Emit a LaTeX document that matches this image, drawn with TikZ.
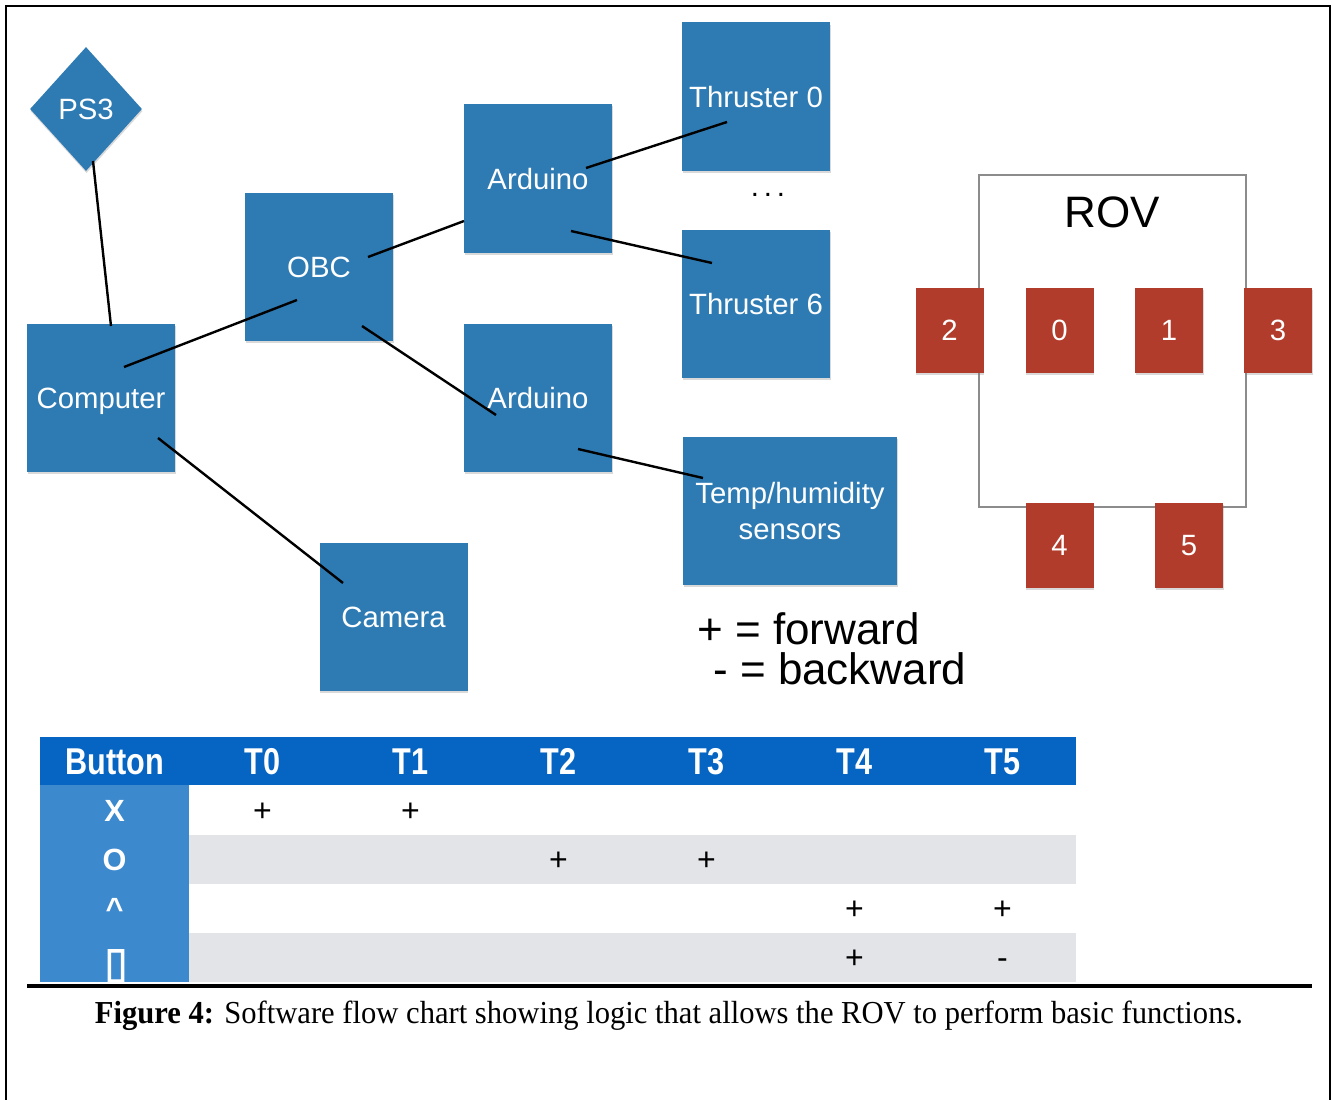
\documentclass[tikz,border=0pt]{standalone}
\usepackage{fontspec}
\setmainfont{Liberation Sans}
\newfontfamily\narrowfont[FakeStretch=0.82]{Liberation Sans}
\newfontfamily\capfont[FakeStretch=0.956]{Liberation Serif}
\newfontfamily\tofufont[FakeBold=2.5]{DejaVu Sans}
\usetikzlibrary{shapes.geometric,shadows}

\definecolor{boxblue}{RGB}{46,123,180}
\definecolor{rovred}{RGB}{178,60,44}
\definecolor{hdrblue}{RGB}{6,101,194}
\definecolor{colblue}{RGB}{60,137,206}
\definecolor{rowgray}{RGB}{227,228,232}
\definecolor{framegray}{RGB}{140,140,140}

\begin{document}
\begin{tikzpicture}[x=0.75pt,y=-0.75pt,
  softshadow/.style={drop shadow={opacity=0.3,shadow xshift=0.4pt,shadow yshift=-1.6pt}},
  box/.style={rectangle,fill=boxblue,text=white,inner sep=0pt,
    minimum width=111pt,minimum height=111pt,text depth=0pt,align=center,
    font=\fontsize{22}{26}\selectfont,softshadow},
  thr/.style={rectangle,fill=rovred,text=white,inner sep=0pt,
    minimum width=51pt,minimum height=64pt,
    font=\fontsize{22}{26}\selectfont,softshadow},
  link/.style={line width=1.8pt,black},
  legend/.style={anchor=base west,inner sep=0pt,align=left,font=\fontsize{33}{30}\selectfont},
  hdr/.style={anchor=base,inner sep=0pt,text=white,font=\narrowfont\bfseries\fontsize{28}{32}\selectfont},
  btn/.style={anchor=base,inner sep=0pt,text=white,font=\bfseries\fontsize{23}{27}\selectfont},
  cell/.style={anchor=base,inner sep=0pt,font=\fontsize{24}{28}\selectfont},
]
\useasboundingbox (0,0) rectangle (1333,1099);
\clip (0,0) rectangle (1333,1099);

% page frame
\draw[line width=1.5pt] (5.5,1110) |- (1330,6) -- (1330,1110);

% ---- software flow chart ----
\node[box,shape=diamond,minimum width=84pt,minimum height=93pt] (ps3) at (86,109) {PS3};
\node[box] (comp) at (101,398) {Computer};
\node[box] (obc) at (319,267) {OBC};
\node[box,minimum height=112pt] (ard1) at (538,178.5) {Arduino};
\node[box] (ard2) at (538,398) {Arduino};
\node[box] (thr0) at (756,96.5) {Thruster 0};
\node[box] (thr6) at (756,304) {Thruster 6};
\node[box,minimum width=160.5pt,font=\fontsize{22}{27}\selectfont] (temp) at (790,511) {Temp/humidity\\sensors};
\node[box] (cam) at (393.5,617) {Camera};
\node[inner sep=0pt,font=\fontsize{22}{26}\selectfont] (dots) at (768,195) {.\kern3.6pt.\kern3.6pt.};

\draw[link] ([shift={(7,52)}]ps3.center) -- ([shift={(10,-72)}]comp.center);
\draw[link] ([shift={(23,-31)}]comp.center) -- ([shift={(-22,33)}]obc.center);
\draw[link] ([shift={(49,-10)}]obc.center) -- ([shift={(-74,42.5)}]ard1.center);
\draw[link] ([shift={(43,59)}]obc.center) -- ([shift={(-42,17)}]ard2.center);
\draw[link] ([shift={(48,-10.5)}]ard1.center) -- ([shift={(-29,25.5)}]thr0.center);
\draw[link] ([shift={(33,52.5)}]ard1.center) -- ([shift={(-44,-41)}]thr6.center);
\draw[link] ([shift={(40,51)}]ard2.center) -- ([shift={(-87,-33)}]temp.center);
\draw[link] ([shift={(57,40)}]comp.center) -- ([shift={(-50.5,-34)}]cam.center);

% ---- ROV thruster layout ----
\draw[framegray,line width=1.6pt] (979,175) rectangle (1246,507);
\node[inner sep=0pt,font=\fontsize{33}{38}\selectfont] (rovlabel) at (1112,212) {ROV};
\node[thr] (t2) at (949.5,330.5) {2};
\node[thr] (t0) at (1059.5,330.5) {0};
\node[thr] (t1) at (1169,330.5) {1};
\node[thr] (t3) at (1278,330.5) {3};
\node[thr] (t4) at (1059.5,545.5) {4};
\node[thr] (t5) at (1189,545.5) {5};

\node[legend] (key) at (697,684) {+ = forward\\\hspace*{12pt}- = backward};

% ---- button table ----
\fill[hdrblue] (40,737) rectangle (1076,785);
\fill[rowgray] (189,835) rectangle (1076,884);
\fill[rowgray] (189,933) rectangle (1076,982);
\fill[colblue] (40,785) rectangle (189,982);

\foreach \t [count=\i from 0] in {Button,T0,T1,T2,T3,T4,T5}
  \node[hdr] (hd\i) at ({114.5+148*\i},774.5) {\t};

\node[btn] (bx) at (114.5,821) {X};
\node[btn] (bo) at (114.5,870.5) {O};
\node[btn] (bu) at (114.5,919.5) {\^{}};
\node[inner sep=0pt,text=white,font=\tofufont\fontsize{32}{34}\selectfont] (bs) at (116,966) {▯};

\foreach \c/\r/\s [count=\k] in {1/821/+,2/821/+,3/870.5/+,4/870.5/+,5/919.5/+,6/919.5/+,5/968.5/+,6/968.5/-}
  \node[cell] (c\k) at ({114.5+148*\c},\r) {\s};

% ---- caption ----
\draw[line width=3pt] (27,986) -- (1312,986);
\node[anchor=base,inner sep=0pt,font=\capfont\fontsize{24}{28}\selectfont] (caption) at (669,1023)
  {\textbf{Figure 4:} Software flow chart showing logic that allows the ROV to perform basic functions.};
\end{tikzpicture}
\end{document}
